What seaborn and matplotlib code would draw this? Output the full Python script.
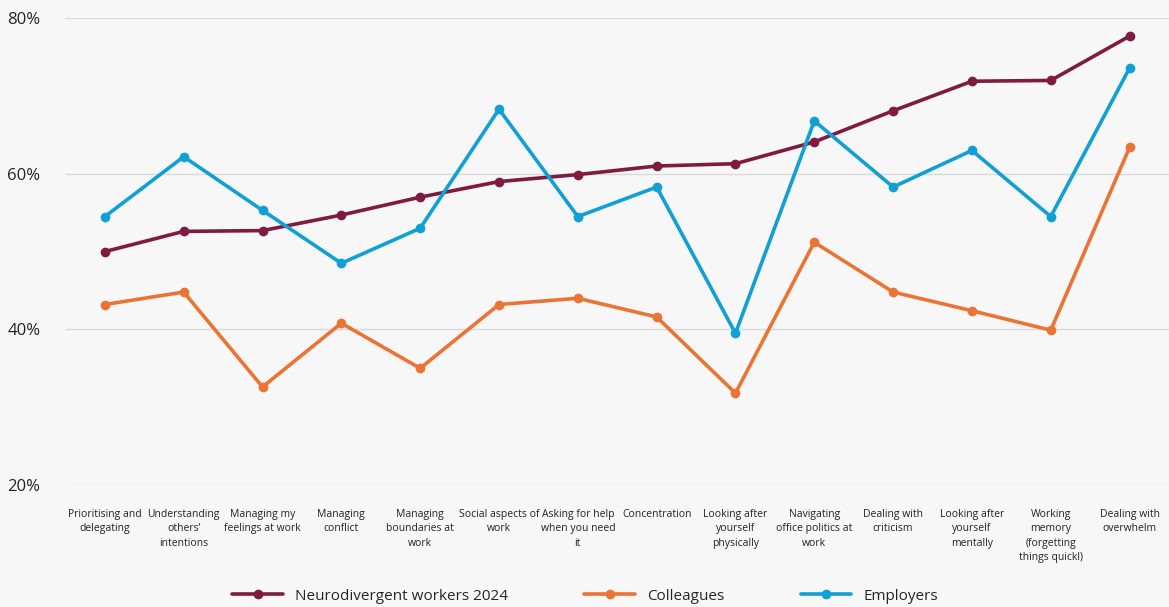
import numpy as np
import pandas as pd
import matplotlib
matplotlib.use("Agg")
import matplotlib.pyplot as plt
import seaborn as sns

categories = [
    "Prioritising and\ndelegating",
    "Understanding\nothers’\nintentions",
    "Managing my\nfeelings at work",
    "Managing\nconflict",
    "Managing\nboundaries at\nwork",
    "Social aspects of\nwork",
    "Asking for help\nwhen you need\nit",
    "Concentration",
    "Looking after\nyourself\nphysically",
    "Navigating\noffice politics at\nwork",
    "Dealing with\ncriticism",
    "Looking after\nyourself\nmentally",
    "Working\nmemory\n(forgetting\nthings quickl)",
    "Dealing with\noverwhelm",
]

neurodivergent = [50.0, 52.6, 52.7, 54.7, 57.0, 59.0, 59.9, 61.0, 61.3, 64.1, 68.1, 71.9, 72.0, 77.7]
colleagues = [43.2, 44.8, 32.6, 40.8, 35.0, 43.2, 44.0, 41.6, 31.8, 51.2, 44.8, 42.4, 39.9, 63.4]
employers = [54.5, 62.2, 55.3, 48.5, 53.0, 68.3, 54.5, 58.3, 39.5, 66.8, 58.3, 63.0, 54.5, 73.6]

series_names = ["Neurodivergent workers 2024", "Colleagues", "Employers"]
colors = ["#801B40", "#EB7434", "#10A0D6"]

df = pd.concat([
    pd.DataFrame({"category": categories, "value": vals, "series": name})
    for name, vals in zip(series_names, [neurodivergent, colleagues, employers])
])

sns.set_theme(style="white")
plt.rcParams["font.family"] = ["Open Sans", "DejaVu Sans"]

bg = "#F7F7F7"
fig = plt.figure(figsize=(11.69, 6.07), dpi=100, facecolor=bg)
ax = fig.add_axes([0.056, 0.201, 0.944, 0.769])
ax.set_facecolor(bg)

sns.lineplot(data=df, x="category", y="value", hue="series", palette=colors,
             marker="o", markersize=7, markeredgewidth=0, linewidth=2.6,
             sort=False, ax=ax)

ax.set_ylim(20, 80)
ax.set_xlim(-0.5, len(categories) - 0.5)
ax.set_yticks([20, 40, 60, 80])
ax.set_yticklabels(["20%", "40%", "60%", "80%"], fontsize=12, color="#222222")
ax.yaxis.grid(True, color="#D9D9D9", linewidth=1)
ax.set_axisbelow(True)
ax.set_xticks(range(len(categories)))
ax.set_xticklabels(categories, fontsize=7.5, color="#222222", linespacing=1.45, va="top")
ax.tick_params(axis="x", length=0, pad=17)
ax.tick_params(axis="y", length=0, pad=18)
ax.set_xlabel("")
ax.set_ylabel("")
for s in ax.spines.values():
    s.set_visible(False)

handles, labels = ax.get_legend_handles_labels()
ax.legend(handles, labels, loc="center", bbox_to_anchor=(0.471, -0.238), ncol=3,
          frameon=False, fontsize=11, handlelength=3.3, columnspacing=5.0,
          handletextpad=0.8)

fig.savefig("out.png", dpi=100, facecolor=bg)
